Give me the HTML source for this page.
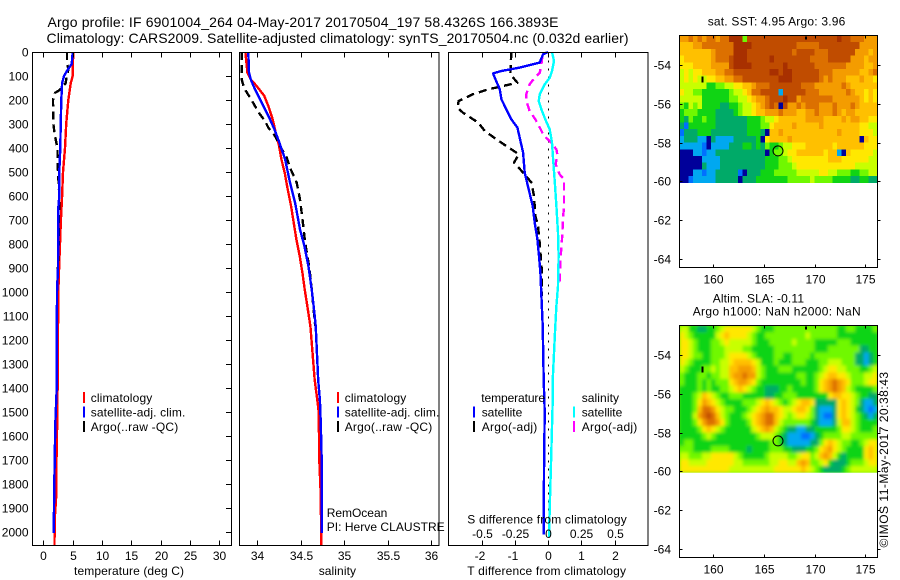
<!DOCTYPE html>
<html lang="en">
<head>
<meta charset="utf-8">
<title>Argo profile</title>
<style>
html,body{margin:0;padding:0;background:#fff;}
svg{display:block;}
text{font-family:"Liberation Sans",sans-serif;font-size:12px;fill:#000;}
.title{font-size:14px;}
.frame{fill:none;stroke:#000;stroke-width:1;shape-rendering:crispEdges;}
.tick{stroke:#000;stroke-width:1;shape-rendering:crispEdges;}
.ser{fill:none;stroke-width:2.4;shape-rendering:crispEdges;stroke-linejoin:round;}
.mark{shape-rendering:crispEdges;}
</style>
</head>
<body>
<svg id="fig" xmlns="http://www.w3.org/2000/svg" width="900" height="580" viewBox="0 0 900 580">
  <defs>
    <filter id="smooth" x="-5%" y="-5%" width="110%" height="110%"><feGaussianBlur stdDeviation="1.6"/></filter>
    <clipPath id="slaClip"><rect x="679.5" y="325.5" width="198" height="147.2"/></clipPath>
  </defs>
  <rect x="0" y="0" width="900" height="580" fill="#fff"/>
  <text class="title" x="47.5" y="27" textLength="511">Argo profile: IF 6901004_264 04-May-2017 20170504_197 58.4326S 166.3893E</text>
  <text class="title" x="46.5" y="43" textLength="582">Climatology: CARS2009. Satellite-adjusted climatology: synTS_20170504.nc (0.032d earlier)</text>

  <g id="maps"></g>
  <g id="panels"></g>

  <!-- temperature panel text -->
  <text x="74" y="575" textLength="110">temperature (deg C)</text>
  <rect class="mark" x="83" y="392" width="2" height="11" fill="#f00"/>
  <rect class="mark" x="83" y="406.500" width="2" height="11" fill="#00f"/>
  <rect class="mark" x="83" y="421" width="2" height="11" fill="#000"/>
  <text x="90.700" y="402" textLength="61.600">climatology</text>
  <text x="90.700" y="416.500" textLength="94.600">satellite-adj. clim.</text>
  <text x="90.700" y="431" textLength="87.600">Argo(..raw -QC)</text>

  <!-- salinity panel text -->
  <text x="318.700" y="575" textLength="37.300">salinity</text>
  <rect class="mark" x="337" y="392" width="2" height="11" fill="#f00"/>
  <rect class="mark" x="337" y="406.500" width="2" height="11" fill="#00f"/>
  <rect class="mark" x="337" y="421" width="2" height="11" fill="#000"/>
  <text x="344.700" y="402" textLength="61.600">climatology</text>
  <text x="344.700" y="416.500" textLength="94.600">satellite-adj. clim.</text>
  <text x="344.700" y="431" textLength="87.600">Argo(..raw -QC)</text>
  <text x="326.700" y="517" textLength="60.600">RemOcean</text>
  <text x="326.700" y="531" textLength="118">PI: Herve CLAUSTRE</text>

  <!-- difference panel text -->
  <text x="481.300" y="402" textLength="63.700">temperature</text>
  <rect class="mark" x="473" y="406.500" width="2" height="11" fill="#00f"/>
  <rect class="mark" x="473" y="421" width="2" height="11" fill="#000"/>
  <text x="481.700" y="416.500" textLength="40.600">satellite</text>
  <text x="481.700" y="431" textLength="55.600">Argo(-adj)</text>
  <text x="581.700" y="402" textLength="37.300">salinity</text>
  <rect class="mark" x="573" y="406.500" width="2" height="11" fill="#0ff"/>
  <rect class="mark" x="573" y="421" width="2" height="11" fill="#f0f"/>
  <text x="581.700" y="416.500" textLength="40.600">satellite</text>
  <text x="581.700" y="431" textLength="55.600">Argo(-adj)</text>
  <text x="467.300" y="523.500" textLength="159.400">S difference from climatology</text>
  <text x="467.300" y="575" textLength="158.700">T difference from climatology</text>

  <!-- map titles -->
  <text x="707.700" y="25.500" textLength="137.600">sat. SST: 4.95 Argo: 3.96</text>
  <text x="712.700" y="302.300" textLength="91.300">Altim. SLA: -0.11</text>
  <text x="692.700" y="315.700" textLength="168">Argo h1000: NaN h2000: NaN</text>
  <text transform="translate(888,547.500) rotate(-90)" x="0" y="0" textLength="175.600">©IMOS 11-May-2017 20:38:43</text>
</svg>

<script>
// ---- temperature panel data (deg C, depth m) ----
const tClimDepth = [0,100,130,200,300,400,500,600,700,800,900,1000,1500,1700,1850,1950,2055];
const tClimVal   = [5.1,5.0,4.67,4.26,3.9,3.7,3.36,3.2,3.0,2.85,2.7,2.55,2.4,2.25,2.2,1.95,1.9];
const tSatDepth  = [0,50,70,100,130,200,300,400,500,600,650,900,1000,1400,1550,1800,2005];
const tSatVal    = [5.0,4.84,4.26,3.53,3.2,3.07,2.96,2.9,2.73,2.73,2.56,2.5,2.33,2.28,2.05,1.88,1.77];
const tArgoDepth = [0,50,70,100,130,160,170,200,300,350,400,500,600,800,1000];
const tArgoVal   = [4.04,4.04,4.3,4.0,3.8,2.7,2.0,1.65,1.7,2.0,2.4,2.5,2.73,2.6,2.35];

// ---- salinity panel data ----
const sClimDepth = [0,86,114,142,183,225,281,336,392,447,503,572,642,711,781,850,919,989,1058,1142,1367,1450,1500,1700,1850,2055];
const sClimVal   = [33.863,33.886,33.924,33.993,34.081,34.127,34.177,34.211,34.25,34.277,34.315,34.349,34.388,34.418,34.449,34.487,34.518,34.545,34.575,34.61,34.66,34.69,34.706,34.713,34.73,34.735];
const sSatDepth  = [0,86,114,156,225,281,322,378,447,544,628,739,808,892,989,1072,1142,1367,1450,1550,1700,2005];
const sSatVal    = [33.897,33.905,33.924,33.974,34.07,34.146,34.196,34.254,34.319,34.376,34.434,34.491,34.541,34.587,34.625,34.652,34.671,34.7,34.72,34.73,34.74,34.74];
const sArgoDepth = [0,114,149,190,225,260,287,315,350,392,440,482,544,614,725,794,892,961,1142];
const sArgoVal   = [33.821,33.821,33.847,33.916,33.974,34.031,34.089,34.127,34.204,34.261,34.338,34.376,34.453,34.491,34.529,34.549,34.595,34.618,34.665];

// ---- difference panel data ----
const dtSatDepth = [0,10,44,65,79,89,114,156,197,239,281,315,364,419,503,572,642,711,781,850,919,1017,1142,1367,1500,1750,2010];
const dtSatVal   = [0,-0.15,-0.25,-0.85,-1.4,-1.65,-1.58,-1.45,-1.4,-1.25,-1.1,-0.92,-0.84,-0.75,-0.7,-0.58,-0.46,-0.4,-0.32,-0.27,-0.23,-0.2,-0.16,-0.13,-0.1,-0.12,-0.13];
const dtArgoDepth = [0,44,93,128,156,176,204,232,253,294,329,364,392,426,461,482,510,544,600,683,725,781,850,919,1017];
const dtArgoVal   = [-1.1,-1.12,-1.13,-0.92,-1.8,-2.255,-2.686,-2.726,-2.556,-2.1,-1.9,-1.55,-1.25,-0.88,-1.02,-0.88,-0.7,-0.5,-0.42,-0.38,-0.3,-0.26,-0.22,-0.18,-0.18];
const dsSatDepth = [0,37,79,107,135,176,204,239,281,322,378,447,531,642,753,850,975,1058,1142,1367,1450,1500,1700,1900,2020];
const dsSatVal   = [0.03,0.045,0.03,0.013,-0.025,-0.062,-0.07,-0.05,-0.02,0.013,0.03,0.038,0.05,0.063,0.075,0.08,0.075,0.063,0.055,0.035,0.035,0.033,0.023,0.013,0.008];
const dsArgoDepth = [17,51,86,107,135,176,204,246,281,315,350,371,406,426,468,510,531,642,697,781,864,961];
const dsArgoVal   = [-0.042,-0.05,-0.062,-0.1,-0.138,-0.163,-0.163,-0.138,-0.095,-0.062,-0.03,0.013,0.063,0.07,0.058,0.088,0.12,0.12,0.113,0.105,0.093,0.088];

// ---- tick labels ----
const depthTicks = [0,100,200,300,400,500,600,700,800,900,1000,1100,1200,1300,1400,1500,1600,1700,1800,1900,2000];
const tempTicks  = [0,5,10,15,20,25,30];
const salTicks   = [34,34.5,35,35.5,36];
const dtTicks    = [-2,-1,0,1,2];
const dsTicks    = [-0.5,-0.25,0,0.25,0.5];
const lonTicks   = [160,165,170,175];
const latTicks   = [-54,-56,-58,-60,-62,-64];

// ---- map grids: each character is a colour class, 0 (lowest) to c (highest); spaces only group columns ----
const sstRows = [
"99a9a9aa9aa ccc5bbbbbbb bbbbbbbbbbb bbcbbaaa999",
"88899aaaaaa accccbbbbbb bbbbaaaaabb bbbbbbb9999",
"88888889aaa acccbbbbbbb bbbabbbbaaa bbbbbb99989",
"78888889aaa bcccbbbbbcb bbbbbbbaaaa bbbbb999899",
"77788889999 bccccbbbbbb bcbbbbbbaaa aaaa9999889",
"6767788899a abbbbbbbbcc bccbbbbbbaa a999999889a",
"67676677889 9aabbbbbbbb cccbbbbbba9 a9998889887",
"66666644556 677889aaabb bbbbbaaa999 999a9888888",
"76655444444 56678aabbbb 2bbbbbaaa99 9999a988787",
"66666444444 55667899abb bcbb9aaaaaa a9999998787",
"54656444433 44566789aba 0b99a9aaa99 9a999a98888",
"45554444333 34566788999 a9998899a99 9a989988888",
"43544544333 33334445667 88888899998 88898998877",
"31444444333 33334445578 88898888898 88888887766",
"13334443333 33334443088 98888888888 88988887776",
"23332203222 23333340788 88988888888 88888880877",
"22222102222 33344343544 56677788888 87888888777",
"00022122333 33333333045 56778888887 88208777776",
"00000222233 33333333444 55677777777 88877777766",
"00000322233 33333333444 55567777777 77777766666",
"00022122333 33103334445 55556666677 66555445566",
"00122222333 33033344444 44555556555 54444334433"
];
const slaRows = [
"66443344567 77777654445 55555555555 55445544445",
"76544444678 77776544555 55555565555 55444444444",
"77654445567 66666544455 55565555444 44555444444",
"77654445556 66655444445 55555555444 55555553344",
"77655445556 77776544445 54455554555 55555533234",
"76544445566 78888764445 44455544455 66655533234",
"65444556566 88999865444 55544444456 77665554456",
"54445545566 899a9965444 44445544567 88776555667",
"54445454555 78998754444 44444544578 9a987555677",
"44445454455 67876544333 44544444578 9a986544445",
"44456876544 55544444334 45554444444 78877654433",
"44457987654 44455567876 54567887333 33787653223",
"44458aa9765 54445678988 76678875322 23787643212",
"44469aba865 44456789aa8 76567765321 13787654323",
"444579aa975 44445789aa8 65555554322 23688654444",
"44445787654 44444678986 54332233444 44577654445",
"44444565444 44444456665 43222112345 55566555555",
"45544444444 44444444455 43222223357 87655445677",
"55544445555 44443444455 54433344578 97654444787",
"66555667777 76544444566 66556775689 86434444787",
"77666677777 76655555566 77668985567 43334555677",
"77777777777 66666666667 77777876543 33345666666"
];

// ---- presentation ----
const NS = "http://www.w3.org/2000/svg";
const panelsG = document.getElementById("panels");
const mapsG = document.getElementById("maps");
const panelTop = 52.5, panelBottom = 545.5;

function depthY(d){ return 52 + d * 0.24; }
function tempX(v){ return 43.3 + v * 5.87; }
function salX(v){ return 257.3 + (v - 34) * 87; }
function dtX(v){ return 548 + v * 33.25; }
function dsX(v){ return 548 + v * 133; }

function addLine(x1,y1,x2,y2,name){
  const l = document.createElementNS(NS,"line");
  l.setAttribute("x1",x1); l.setAttribute("y1",y1); l.setAttribute("x2",x2); l.setAttribute("y2",y2);
  l.setAttribute("class","tick");
  
  
  return l;
}
function addText(x,y,str,anchor,name){
  const t = document.createElementNS(NS,"text");
  t.setAttribute("x",x); t.setAttribute("y",y);
  if(anchor) t.setAttribute("text-anchor",anchor);
  t.textContent = str;
  
  
  return t;
}
function addFrame(parent,x,y,w,h,name){
  const r = document.createElementNS(NS,"rect");
  r.setAttribute("x",x); r.setAttribute("y",y); r.setAttribute("width",w); r.setAttribute("height",h);
  r.setAttribute("class","frame");
  
  
  parent.appendChild(r);
}
function addSeries(depths,vals,xf,color,dash,name){
  const p = document.createElementNS(NS,"polyline");
  p.setAttribute("points", depths.map((d,i)=>xf(vals[i]).toFixed(1)+","+depthY(d).toFixed(1)).join(" "));
  p.setAttribute("class","ser");
  p.setAttribute("stroke",color);
  if(dash) p.setAttribute("stroke-dasharray",dash);
  
  
  panelsG.appendChild(p);
}

// panel 1
addSeries(tClimDepth,tClimVal,tempX,"#f00",null,"temperature-climatology-line");
addSeries(tArgoDepth,tArgoVal,tempX,"#000","8 5","temperature-argo-line");
addSeries(tSatDepth,tSatVal,tempX,"#00f",null,"temperature-satellite-line");
// panel 2
addSeries(sClimDepth,sClimVal,salX,"#f00",null,"salinity-climatology-line");
addSeries(sArgoDepth,sArgoVal,salX,"#000","8 5","salinity-argo-line");
addSeries(sSatDepth,sSatVal,salX,"#00f",null,"salinity-satellite-line");
// panel 3
const zeroLine = addLine(dtX(0)+0.5,panelTop,dtX(0)+0.5,panelBottom-12,"zero-difference-line");
zeroLine.setAttribute("stroke-dasharray","2 6");
panelsG.appendChild(zeroLine);
addSeries(dsArgoDepth,dsArgoVal,dsX,"#f0f","8 5","salinity-difference-argo-line");
addSeries(dsSatDepth,dsSatVal,dsX,"#0ff",null,"salinity-difference-satellite-line");
addSeries(dtArgoDepth,dtArgoVal,dtX,"#000","8 5","temperature-difference-argo-line");
addSeries(dtSatDepth,dtSatVal,dtX,"#00f",null,"temperature-difference-satellite-line");

// frames
addFrame(panelsG,32.5,panelTop,199,493,"temperature-panel-frame");
addFrame(panelsG,239.5,panelTop,199.5,493,"salinity-panel-frame");
addFrame(panelsG,448.5,panelTop,199.5,493,"difference-panel-frame");

// depth axis
depthTicks.forEach(function(d){
  const y = Math.round(depthY(d))+0.5;
  panelsG.appendChild(addLine(226,y,231.5,y,"depth-tick"));
  panelsG.appendChild(addText(28.5,y+4,String(d),"end","depth-tick-label"));
});
// x ticks per panel
tempTicks.forEach(function(v){
  const x = Math.round(tempX(v))+0.5;
  panelsG.appendChild(addLine(x,panelTop,x,panelTop+5,"temperature-top-tick"));
  panelsG.appendChild(addLine(x,panelBottom-5,x,panelBottom,"temperature-bottom-tick"));
  panelsG.appendChild(addText(x,560,String(v),"middle","temperature-tick-label"));
});
salTicks.forEach(function(v){
  const x = Math.round(salX(v))+0.5;
  panelsG.appendChild(addLine(x,panelTop,x,panelTop+5,"salinity-top-tick"));
  panelsG.appendChild(addLine(x,panelBottom-5,x,panelBottom,"salinity-bottom-tick"));
  panelsG.appendChild(addText(x,560,String(v),"middle","salinity-tick-label"));
});
dtTicks.forEach(function(v){
  const x = Math.round(dtX(v))+0.5;
  panelsG.appendChild(addLine(x,panelBottom-5,x,panelBottom,"t-difference-tick"));
  panelsG.appendChild(addText(v<0?x-2.5:x,560,String(v),"middle","t-difference-tick-label"));
});
dsTicks.forEach(function(v){
  const x = Math.round(dsX(v))+0.5;
  panelsG.appendChild(addLine(x,panelTop,x,panelTop+5,"s-difference-tick"));
  panelsG.appendChild(addText(x,538,String(v),"middle","s-difference-tick-label"));
});

// maps
const palette = {"0":"#00009a","1":"#0070ff","2":"#00a8f0","3":"#00aa68","4":"#10d414","5":"#70f800","6":"#c8ff00","7":"#ffe800","8":"#ffc000","9":"#f49c00","a":"#dc7000","b":"#c04c00","c":"#a83000"};
function lonX(lon){ return 713.3 + (lon-160)*10.133; }
function latY(lat,origin){ return origin + (-60-lat)*19.4; }

function drawMap(rowsRaw,top,bottom,origin,prefix,imgBottom,smooth){
  const rows = rowsRaw.map(function(s){ return s.replace(/ /g,""); });
  const left = 679.5, right = 877.5;
  const nc = rows[0].length, nr = rows.length;
  const cw = (right-left)/nc, ch = (imgBottom-top)/nr;
  const outer = document.createElementNS(NS,"g");
  
  
  const cells = document.createElementNS(NS,"g");
  
  
  if(smooth){
    outer.setAttribute("clip-path","url(#slaClip)");
    cells.setAttribute("filter","url(#smooth)");
    const base = document.createElementNS(NS,"rect");
    base.setAttribute("x",left);
    base.setAttribute("y",top);
    base.setAttribute("width",right-left);
    base.setAttribute("height",imgBottom-top);
    base.setAttribute("fill","#50e800");
    
    
    outer.appendChild(base);
  }
  rows.forEach(function(row,r){
    for(let c=0;c<row.length;c++){
      const cell = document.createElementNS(NS,"rect");
      cell.setAttribute("x",(left+c*cw).toFixed(2));
      cell.setAttribute("y",(top+r*ch).toFixed(2));
      cell.setAttribute("width",(cw+0.4).toFixed(2));
      cell.setAttribute("height",(ch+0.4).toFixed(2));
      cell.setAttribute("fill",palette[row[c]]);
      cell.setAttribute("shape-rendering","crispEdges");
      
      
      cells.appendChild(cell);
    }
  });
  outer.appendChild(cells);
  mapsG.appendChild(outer);
  addFrame(mapsG,left,top,right-left,bottom-top,prefix+"-map-frame");
  lonTicks.forEach(function(lon){
    const x = Math.round(lonX(lon))+0.5;
    mapsG.appendChild(addLine(x,top,x,top+3,prefix+"-lon-top-tick"));
    mapsG.appendChild(addLine(x,bottom-3,x,bottom,prefix+"-lon-bottom-tick"));
    mapsG.appendChild(addText(x,bottom+16,String(lon),"middle",prefix+"-lon-tick-label"));
  });
  latTicks.forEach(function(lat){
    const y = Math.round(latY(lat,origin))+0.5;
    mapsG.appendChild(addLine(left,y,left+3,y,prefix+"-lat-left-tick"));
    mapsG.appendChild(addLine(right,y,right+3,y,prefix+"-lat-right-tick"));
    mapsG.appendChild(addText(671,y+4,String(lat),"end",prefix+"-lat-tick-label"));
  });
  const marker = document.createElementNS(NS,"circle");
  marker.setAttribute("cx",lonX(166.3893).toFixed(1));
  marker.setAttribute("cy",latY(-58.4326,origin).toFixed(1));
  marker.setAttribute("r","5");
  marker.setAttribute("fill","none");
  marker.setAttribute("stroke","#000");
  
  
  mapsG.appendChild(marker);
  const coast1 = document.createElementNS(NS,"rect");
  coast1.setAttribute("x","701.5");
  coast1.setAttribute("y",(latY(-54.6,origin)).toFixed(1));
  coast1.setAttribute("width","2");
  coast1.setAttribute("height","6");
  
  
  mapsG.appendChild(coast1);
  const coast2 = document.createElementNS(NS,"rect");
  coast2.setAttribute("x","805");
  coast2.setAttribute("y",top+1);
  coast2.setAttribute("width","2");
  coast2.setAttribute("height","3");
  
  
  mapsG.appendChild(coast2);
}
drawMap(sstRows,35.5,267.5,181.3,"sst",182.7,false);
drawMap(slaRows,325.5,557.5,471.3,"sla",472.7,true);
</script>
</body>
</html>
